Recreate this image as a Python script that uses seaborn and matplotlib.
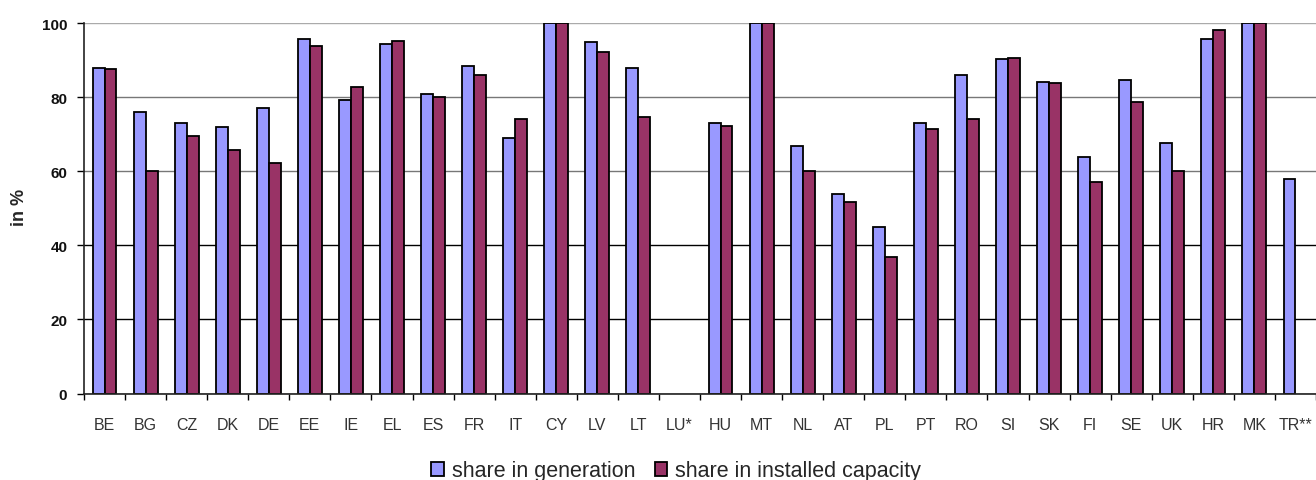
import numpy as np
import pandas as pd
import matplotlib
matplotlib.use("Agg")
import matplotlib.pyplot as plt
import seaborn as sns

countries = ["BE", "BG", "CZ", "DK", "DE", "EE", "IE", "EL", "ES", "FR", "IT", "CY", "LV", "LT", "LU*",
             "HU", "MT", "NL", "AT", "PL", "PT", "RO", "SI", "SK", "FI", "SE", "UK", "HR", "MK", "TR**"]
share_generation = [88.0, 76.0, 73.2, 71.9, 77.0, 95.8, 79.2, 94.4, 80.9, 88.4, 69.0, 100, 94.9, 87.9, np.nan,
                    73.2, 100, 66.9, 53.9, 45.0, 73.2, 86.0, 90.3, 84.2, 64.0, 84.7, 67.7, 95.8, 100, 58.0]
share_capacity = [87.6, 60.0, 69.6, 65.9, 62.2, 93.9, 82.8, 95.2, 80.1, 86.0, 74.2, 100, 92.2, 74.6, np.nan,
                  72.3, 100, 60.0, 51.6, 36.8, 71.4, 74.2, 90.7, 83.8, 57.1, 78.7, 60.0, 98.1, 100, np.nan]
series_names = ["share in generation", "share in installed capacity"]
colors = ["#9999FF", "#993366"]
y_ticks = [0, 20, 40, 60, 80, 100]

df = pd.DataFrame({
    "country": countries * 2,
    "value": share_generation + share_capacity,
    "series": [series_names[0]] * len(countries) + [series_names[1]] * len(countries),
})

sns.set_theme(style="white")
plt.rcParams["font.family"] = ["Liberation Sans", "DejaVu Sans"]

fig = plt.figure(figsize=(13.16, 4.81), dpi=100)
ax = fig.add_axes([84 / 1316, 86.5 / 481, 1232 / 1316, 370.2 / 481])

sns.barplot(data=df, x="country", y="value", hue="series", order=countries,
            hue_order=series_names, palette=colors, width=0.58, gap=0,
            edgecolor="black", linewidth=1.3, saturation=1, errorbar=None, ax=ax)

ax.set_ylim(0, 100)
ax.set_xlim(-0.5, len(countries) - 0.5)
ax.set_yticks(y_ticks)
ax.set_yticklabels([str(t) for t in y_ticks], fontsize=11, fontweight="bold", color="#111111")
ax.set_ylabel("in %", fontsize=13, fontweight="bold")
ax.yaxis.set_label_coords(-0.0455, 0.506)
ax.set_xlabel("")

# gridlines
ax.set_axisbelow(True)
ax.yaxis.grid(True, linewidth=1.0)
grid_colors = {0: "black", 20: "black", 40: "black", 60: "#777777", 80: "#777777", 100: "#aaaaaa"}
for tick_val, gl in zip(ax.get_yticks(), ax.yaxis.get_gridlines()):
    gl.set_color(grid_colors.get(int(round(tick_val)), "black"))

# spines
for s in ["top", "right"]:
    ax.spines[s].set_visible(False)
ax.spines["left"].set_color("#222222")
ax.spines["left"].set_linewidth(1.2)
ax.spines["bottom"].set_color("#222222")
ax.spines["bottom"].set_linewidth(1.2)

# ticks
ax.tick_params(axis="y", which="major", left=True, length=5, width=1, color="black", pad=7)
ax.tick_params(axis="x", which="major", bottom=True, length=0, pad=17, labelsize=11.5, labelcolor="#333333")
ax.set_xticks(np.arange(len(countries) + 1) - 0.5, minor=True)
ax.tick_params(axis="x", which="minor", bottom=True, length=4.5, width=1, color="black")

# legend
handles, labels = ax.get_legend_handles_labels()
ax.legend(handles, labels, loc="center", bbox_to_anchor=(592 / 1232, -0.209), ncol=2,
          frameon=False, fontsize=15.5, handlelength=0.6, handleheight=0.6,
          handletextpad=0.35, columnspacing=0.9, borderaxespad=0)

fig.savefig("out.png", dpi=100)
